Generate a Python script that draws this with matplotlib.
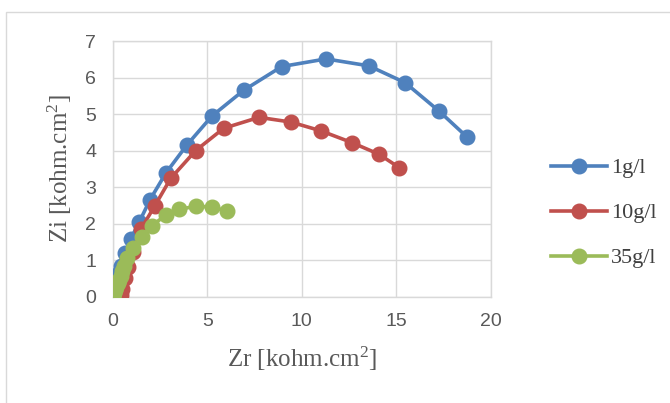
import matplotlib
matplotlib.use("Agg")
import matplotlib.pyplot as plt
from matplotlib.patches import Rectangle

plt.rcParams["mathtext.fontset"] = "custom"
plt.rcParams["mathtext.rm"] = "Liberation Serif"
plt.rcParams["mathtext.it"] = "Liberation Serif:italic"

# Data
zr_1 = [0.0, 0.02, 0.06, 0.12, 0.2, 0.3, 0.42, 0.65, 0.95, 1.41, 1.98, 2.82, 3.92, 5.26, 6.93, 8.94, 11.29, 13.55, 15.47, 17.27, 18.73]
zi_1 = [0.0, 0.04, 0.12, 0.25, 0.42, 0.62, 0.84, 1.19, 1.57, 2.05, 2.66, 3.39, 4.15, 4.95, 5.65, 6.30, 6.51, 6.32, 5.86, 5.08, 4.38]

zr_10 = [0.38, 0.42, 0.5, 0.65, 0.83, 1.09, 1.48, 2.22, 3.07, 4.39, 5.87, 7.74, 9.44, 11.02, 12.65, 14.09, 15.17]
zi_10 = [0.0, 0.06, 0.2, 0.5, 0.82, 1.23, 1.84, 2.48, 3.24, 4.00, 4.61, 4.91, 4.78, 4.54, 4.22, 3.90, 3.53]

zr_35 = [0.0, 0.03, 0.08, 0.14, 0.2, 0.27, 0.34, 0.42, 0.5, 0.6, 0.74, 1.06, 1.53, 2.06, 2.80, 3.53, 4.41, 5.26, 6.03]
zi_35 = [0.0, 0.04, 0.1, 0.18, 0.27, 0.37, 0.47, 0.58, 0.7, 0.85, 1.05, 1.32, 1.64, 1.94, 2.23, 2.39, 2.48, 2.45, 2.35]

labels = ["1g/l", "10g/l", "35g/l"]
colors = ["#4F81BD", "#C0504D", "#9BBB59"]

x_ticks = [0, 5, 10, 15, 20]
y_ticks = [0, 1, 2, 3, 4, 5, 6, 7]

fig = plt.figure(figsize=(6.7, 4.03), dpi=100)
fig.patch.set_facecolor("white")
# outer chart border
fig.patches.append(Rectangle((6 / 670, -0.01), 1.0, 1 - 12 / 403 + 0.01, transform=fig.transFigure,
                             fill=False, edgecolor="#d9d9d9", linewidth=1.0))

ax = fig.add_axes([112.7 / 670, 1 - 296.7 / 403, (490.7 - 112.7) / 670, (296.7 - 41) / 403])

series = [(zr_1, zi_1), (zr_10, zi_10), (zr_35, zi_35)]
for (xs, ys), lab, col in zip(series, labels, colors):
    ax.plot(xs, ys, color=col, linewidth=2.6, marker="o", markersize=10.5,
            markeredgecolor=col, markerfacecolor=col, label=lab, zorder=3)

ax.set_xlim(0, 20)
ax.set_ylim(0, 7)
ax.set_xticks(x_ticks)
ax.set_yticks(y_ticks)
ax.grid(True, color="#d9d9d9", linewidth=1.0)
ax.set_axisbelow(True)
for s in ax.spines.values():
    s.set_color("#d9d9d9")
    s.set_linewidth(1.0)
ax.tick_params(length=0, labelsize=14, labelcolor="#595959")
ax.tick_params(axis="y", pad=12)
ax.tick_params(axis="x", pad=12)
for t in ax.get_xticklabels() + ax.get_yticklabels():
    t.set_fontfamily("Liberation Sans")

ax.set_xlabel(r"Zr [kohm.cm$^\mathregular{2}$]", fontsize=18, family="Liberation Serif", color="#595959", labelpad=10)
ax.set_ylabel(r"Zi [kohm.cm$^\mathregular{2}$]", fontsize=18, family="Liberation Serif", color="#595959", labelpad=8)

leg = ax.legend(loc="center left", bbox_to_anchor=(540 / 670, 1 - 213 / 403), bbox_transform=fig.transFigure,
                frameon=False, prop={"family": "Liberation Serif", "size": 16},
                handlelength=2.5, handletextpad=0.2, labelspacing=1.1, borderpad=0)
for t in leg.get_texts():
    t.set_color("#404040")

fig.savefig("out.png", dpi=100, facecolor="white")
